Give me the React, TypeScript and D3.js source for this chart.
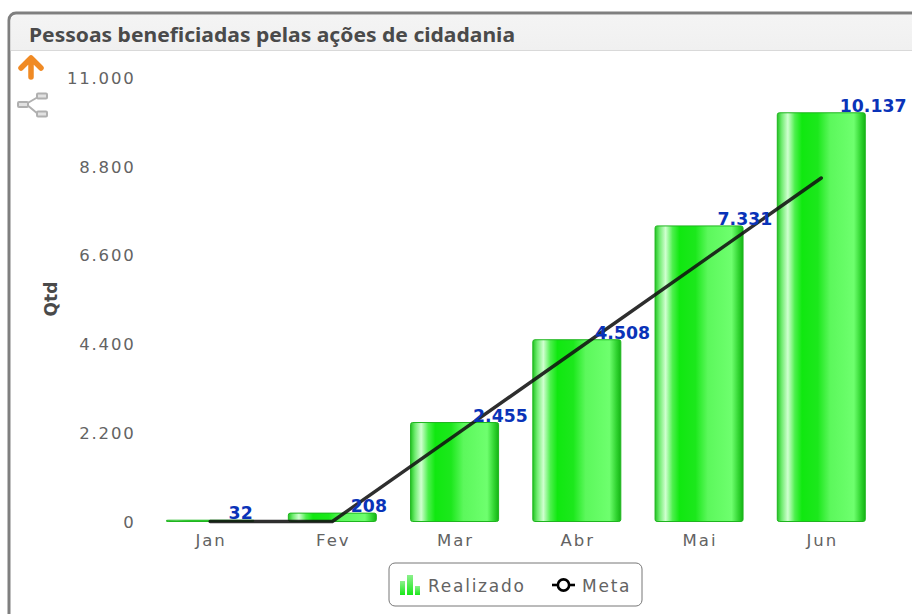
import React from "react";
import * as d3 from "d3";

const categories = ["Jan", "Fev", "Mar", "Abr", "Mai", "Jun"];
const realizado = [32, 208, 2455, 4508, 7331, 10137];
const realizadoLabels = ["32", "208", "2.455", "4.508", "7.331", "10.137"];
const meta = [0, 0, 2130, 4260, 6390, 8520];
const yTicks = [0, 2200, 4400, 6600, 8800, 11000];
const title = "Pessoas beneficiadas pelas ações de cidadania";
const axisTitle = "Qtd";
const legendItems = ["Realizado", "Meta"];

const fmt = (v: number) => d3.format(",")(v).replace(/,/g, ".");
const font = "'DejaVu Sans', Verdana, sans-serif";

export default function App() {
  const y = d3.scaleLinear().domain([0, 11000]).range([521.5, 78]);
  const x = d3.scaleBand().domain(categories).range([149, 882.4]).padding(0);
  const cx = (c: string) => (x(c) as number) + x.bandwidth() / 2;
  const barW = 88;
  const line = d3
    .line<number>()
    .x((_, i) => cx(categories[i]))
    .y((d) => y(d));
  return (
    <svg
      width={912}
      height={614}
      style={{ position: "absolute", left: 0, top: 0, display: "block" }}
      fontFamily={font}
    >
      <defs>
        <linearGradient id="bar" x1="0" x2="1" y1="0" y2="0">
          <stop offset="0" stopColor="#22c522" />
          <stop offset="0.05" stopColor="#70ec70" />
          <stop offset="0.12" stopColor="#d0ffd0" />
          <stop offset="0.2" stopColor="#4cf04c" />
          <stop offset="0.28" stopColor="#10e810" />
          <stop offset="0.46" stopColor="#1ce81c" />
          <stop offset="0.6" stopColor="#5cf85c" />
          <stop offset="0.87" stopColor="#6eff6e" />
          <stop offset="0.95" stopColor="#30d430" />
          <stop offset="1" stopColor="#14b414" />
        </linearGradient>
        <linearGradient id="hdr" x1="0" x2="0" y1="0" y2="1">
          <stop offset="0" stopColor="#f4f4f4" />
          <stop offset="1" stopColor="#f0f0f0" />
        </linearGradient>
        <linearGradient id="legBar" x1="0" x2="0" y1="0" y2="1">
          <stop offset="0" stopColor="#8cf08c" />
          <stop offset="1" stopColor="#18e818" />
        </linearGradient>
      </defs>

      <rect x={9} y={13} width={960} height={660} rx={7} fill="#fff" stroke="#7f7f7f" strokeWidth={3} />
      <path d="M10.5 50V21a6 6 0 0 1 6-6H912V50Z" fill="url(#hdr)" />
      <line x1={10.5} x2={912} y1={50.5} y2={50.5} stroke="#d9d9d9" />
      <text x={29} y={42} fontSize={20} fontWeight={700} fill="#4a4a4a" textLength={486} lengthAdjust="spacingAndGlyphs" fontFamily="'Noto Sans', sans-serif">
        {title}
      </text>

      <path d="M31 77V61M21 68L31 58L41 68" fill="none" stroke="#f08a24" strokeWidth={5.5} strokeLinejoin="round" strokeLinecap="round" />
      <g fill="#e2e2e2" stroke="#b0b0b0" strokeWidth={2}>
        <path d="M26 104L38 97M26 104L38 114" fill="none" />
        <rect x={18} y={102} width={10} height={5} rx={1} />
        <rect x={37} y={93.5} width={10} height={5} rx={1} />
        <rect x={37} y={111.5} width={10} height={5} rx={1} />
      </g>

      {yTicks.map((t) => (
        <text key={t} x={135.5} y={y(t) + 6} textAnchor="end" fontSize={16.5} letterSpacing={1.8} fill="#636363">
          {fmt(t)}
        </text>
      ))}
      <text transform="translate(57 299) rotate(-90)" textAnchor="middle" fontSize={17} fontWeight={700} fill="#4a4a4a">
        {axisTitle}
      </text>

      {categories.map((c, i) => {
        const top = y(realizado[i]);
        return (
          <rect
            key={c}
            x={cx(c) - barW / 2}
            y={top}
            width={barW}
            height={y(0) - top}
            rx={2}
            fill="url(#bar)"
            stroke="#1fb51f"
            strokeWidth={1}
          />
        );
      })}

      <path d={line(meta) as string} fill="none" stroke="#111" strokeOpacity={0.88} strokeWidth={3.4} strokeLinecap="round" />

      {categories.map((c, i) => (
        <text key={c} x={cx(c) + 18.5} y={y(realizado[i]) - 1} fontSize={17.3} fontWeight={700} fill="#0a33b8">
          {realizadoLabels[i]}
        </text>
      ))}

      {categories.map((c) => (
        <text key={c} x={cx(c) + 1} y={546} textAnchor="middle" fontSize={16.5} letterSpacing={2} fill="#636363">
          {c}
        </text>
      ))}

      <rect x={389} y={563} width={253} height={43} rx={6} fill="#fff" stroke="#777" strokeWidth={1} />
      <rect x={400} y={581} width={5} height={14} fill="url(#legBar)" />
      <rect x={407} y={575} width={6} height={20} fill="url(#legBar)" />
      <rect x={415} y={586} width={5} height={9} fill="url(#legBar)" />
      <text x={428} y={592} fontSize={17} letterSpacing={1.75} fill="#636363">
        {legendItems[0]}
      </text>
      <line x1={552} x2={575} y1={585} y2={585} stroke="#000" strokeWidth={2.6} />
      <circle cx={563.5} cy={585} r={5.6} fill="#fff" stroke="#000" strokeWidth={2.6} />
      <text x={582} y={592} fontSize={17} letterSpacing={1.75} fill="#636363">
        {legendItems[1]}
      </text>
    </svg>
  );
}
